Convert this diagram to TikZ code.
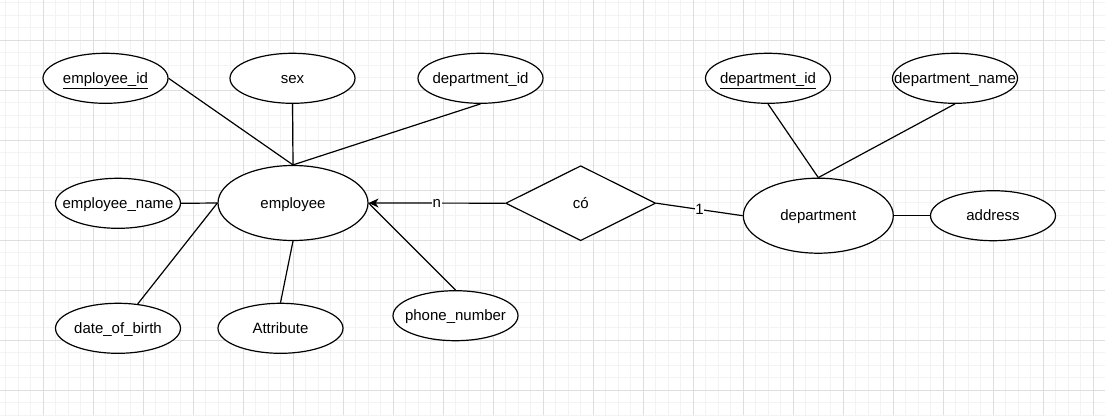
\documentclass[tikz,border=0pt]{standalone}
\usepackage{fontspec}
\setmainfont{Liberation Sans}
\usetikzlibrary{shapes.geometric,arrows.meta}
\definecolor{minorgrid}{HTML}{F3F3F3}
\definecolor{majorgrid}{HTML}{DEDEDE}
\newcommand{\fx}[1]{\makebox[0pt][c]{\raisebox{-5.2pt}[0pt][0pt]{#1}}}
\tikzset{
  attr/.style={draw=black, line width=1.2pt, fill=white, ellipse, inner sep=0pt,
    minimum width=125pt, minimum height=50pt, font=\fontsize{15}{18}\selectfont},
  ent/.style={attr, minimum width=150pt, minimum height=75pt},
  rel/.style={draw=black, line width=1.2pt, fill=white, diamond, inner sep=0pt,
    minimum width=150pt, minimum height=75pt, font=\fontsize{15}{18}\selectfont},
  conn/.style={draw=black, line width=1.2pt},
  lbl/.style={fill=white, inner sep=0.5pt, font=\fontsize{15}{18}\selectfont},
  minorline/.style={draw=minorgrid, line width=1pt},
  majorline/.style={draw=majorgrid, line width=1pt},
}
\begin{document}
\begin{tikzpicture}[x=1pt,y=-1pt]
\useasboundingbox (0,0) rectangle (1105,415);
\fill[white] (0,0) rectangle (1105,415);
% grid
\foreach \i in {0,...,88} \draw[minorline] ({5.5+12.5*\i},0) -- ({5.5+12.5*\i},415);
\foreach \j in {0,...,33} \draw[minorline] (0,{2.5+12.5*\j}) -- (1105,{2.5+12.5*\j});
\foreach \i in {0,...,21} \draw[majorline] ({43+50*\i},0) -- ({43+50*\i},415);
\foreach \j in {0,...,7} \draw[majorline] (0,{40+50*\j}) -- (1105,{40+50*\j});

% nodes
\node[ent] (emp) at (293,203) {\fx{employee}};
\node[attr] (empid) at (105.5,78.3) {\fx{\underline{employee\_id}}};
\node[attr] (sex) at (292.5,78.3) {\fx{sex}};
\node[attr] (edid) at (480.5,78.3) {\fx{department\_id}};
\node[attr] (ename) at (118,203.3) {\fx{employee\_name}};
\node[attr] (dob) at (118,328.3) {\fx{date\_of\_birth}};
\node[attr] (attrib) at (280.5,328.3) {\fx{Attribute}};
\node[attr] (phone) at (455.5,315.7) {\fx{phone\_number}};
\node[rel] (co) at (580.7,203.2) {\fx{có}};
\node[ent] (dept) at (818.3,215.7) {\fx{department}};
\node[attr] (did) at (768,78.3) {\fx{\underline{department\_id}}};
\node[attr] (dname) at (955,78.3) {\fx{department\_name}};
\node[attr] (addr) at (993,215.7) {\fx{address}};

% connectors
\draw[conn] (empid.east) -- (emp.north);
\draw[conn] (sex.south) -- (emp.north);
\draw[conn] (edid.south) -- (emp.north);
\draw[conn] (ename.east) -- (emp.west);
\draw[conn] (dob.51) -- (emp.west);
\draw[conn] (attrib.north) -- (emp.south);
\draw[conn] (phone.north) -- (emp.east);
\draw[conn, -{Stealth[length=10pt,width=9pt,inset=3pt]}] (co.west) -- node[lbl] {n} (emp.east);
\draw[conn] (co.east) -- node[lbl] {1} (dept.west);
\draw[conn] (dept.north) -- (did.south);
\draw[conn] (dept.north) -- (dname.south);
\draw[conn] (dept.east) -- (addr.west);
\end{tikzpicture}
\end{document}
